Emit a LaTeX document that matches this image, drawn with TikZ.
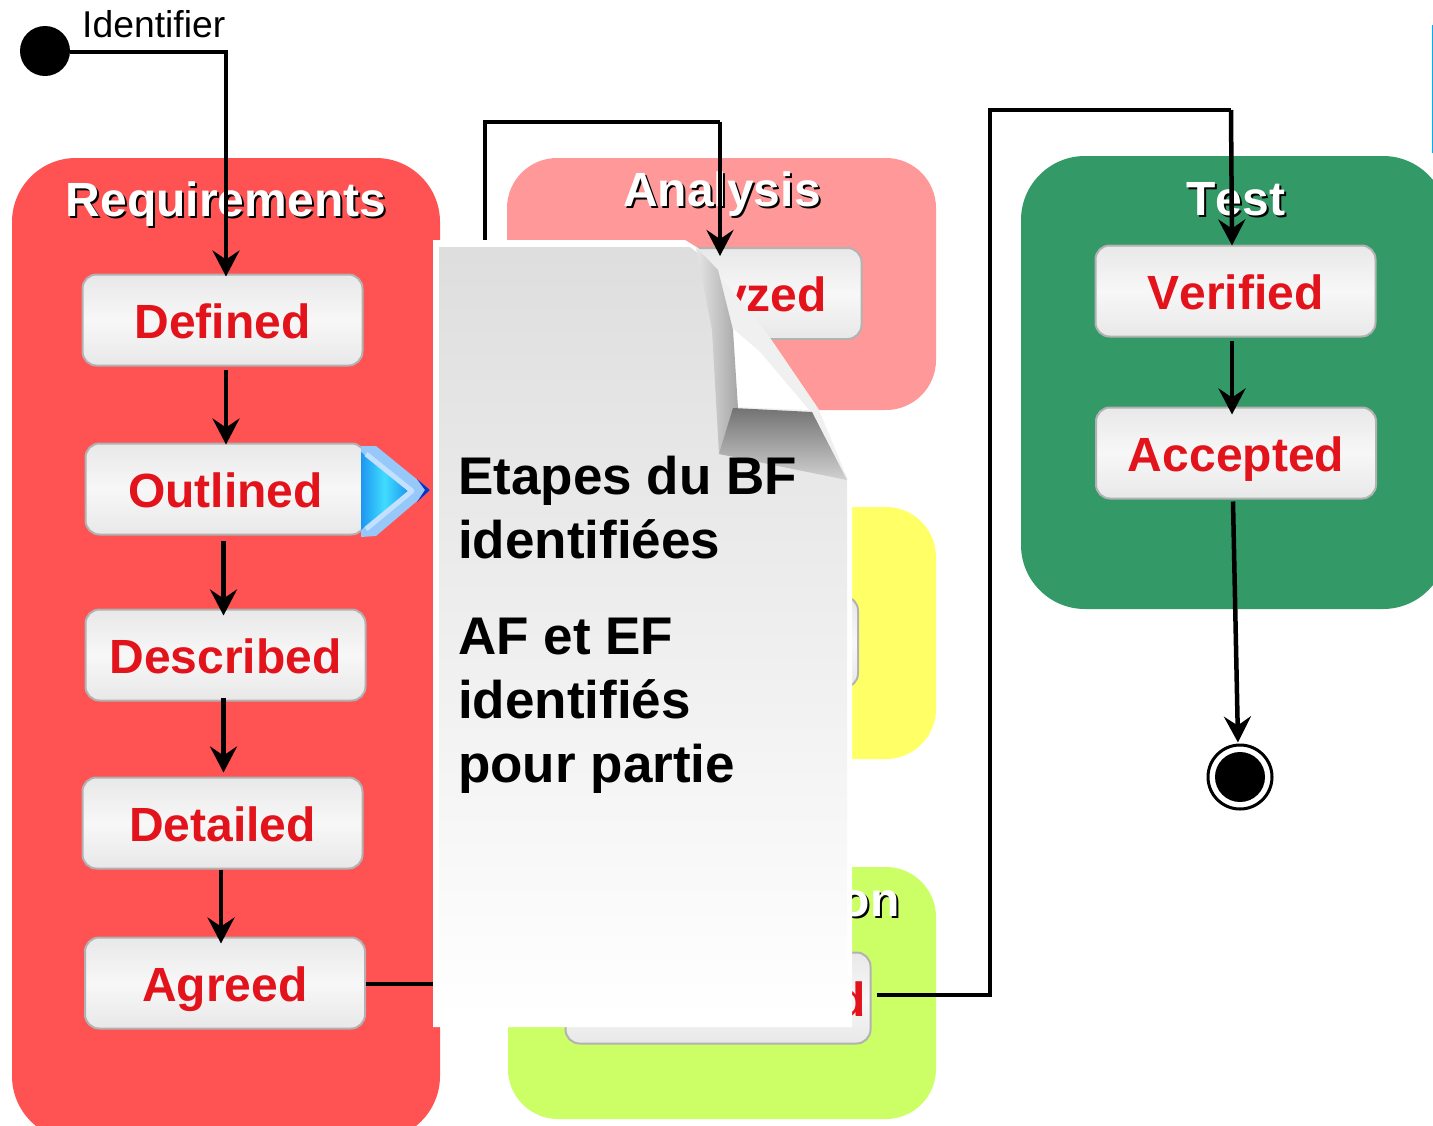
\documentclass[tikz,border=0pt]{standalone}
\usepackage{fontspec}
\setmainfont[Kerning=Off]{Liberation Sans}
\usetikzlibrary{arrows.meta,calc}
\definecolor{lblred}{HTML}{E3131B}
\tikzset{
  x=1pt,y=-1pt,
  panel/.style={rounded corners=64pt,draw=none},
  panelb/.style={rounded corners=50pt,draw=none},
  statebox/.style={rounded corners=14pt,draw=black!30,line width=2pt,top color=black!9,bottom color=black!9,middle color=black!3,
    minimum height=91pt,inner sep=0pt,text=lblred,text height=36pt,text depth=0pt,
    font=\fontsize{48}{48}\selectfont\bfseries},
  ttl/.style={anchor=base,inner sep=0pt,text=white,font=\fontsize{48}{48}\selectfont\bfseries},
  ttlsh/.style={ttl,text=black},
  flow/.style={line width=4.5pt,draw=black},
  arr/.style={flow,-{Stealth[length=26pt,width=27pt,inset=9pt]}},
  doctext/.style={anchor=base west,inner sep=0pt,font=\fontsize{53}{53}\selectfont\bfseries},
}
\newcommand{\paneltitle}[4]{%
  \node[ttlsh] (#1s) at (#2+2,#3+2) {#4};
  \node[ttl] (#1) at (#2,#3) {#4};}
\begin{document}
\begin{tikzpicture}
\useasboundingbox (0,0) rectangle (1433,1125);
\clip (0,0) rectangle (1433,1125);
% panels
\fill[panel,fill={rgb,255:red,255;green,82;blue,82}] (12,158) rectangle (440,1140);
\fill[panelb,fill={rgb,255:red,255;green,153;blue,153}] (507,158) rectangle (936,410);
\fill[panelb,fill={rgb,255:red,255;green,255;blue,102}] (507,507) rectangle (936,759);
\fill[panelb,fill={rgb,255:red,204;green,255;blue,102}] (508,867) rectangle (936,1119);
\fill[panel,fill={rgb,255:red,51;green,153;blue,102}] (1021,156) rectangle (1447,609);
\draw[line width=2pt,draw={rgb,255:red,0;green,176;blue,240}] (1432.5,25) -- (1432.5,153);
% titles
\paneltitle{treq}{226}{216}{Requirements}
\paneltitle{tana}{722}{206}{Analysis}
\paneltitle{ttest}{1236}{215}{Test}
\paneltitle{timp}{722}{916}{Implementation}
% states
\node[statebox,minimum width=280pt] (defined) at (222.5,320) {Defined};
\node[statebox,minimum width=280pt] (outlined) at (225.5,489) {Outlined};
\node[statebox,minimum width=280pt] (described) at (225.5,655) {Described};
\node[statebox,minimum width=280pt] (detailed) at (222.5,823) {Detailed};
\node[statebox,minimum width=280pt] (agreed) at (225,983) {Agreed};
\node[statebox,minimum width=280pt] (analyzed) at (721.5,293.5) {Analyzed};
\node[statebox,minimum width=280pt] (designbox) at (718,642) {};
\node[statebox,minimum width=305pt] (implemented) at (718,998) {Implemented};
\node[statebox,minimum width=280pt] (verified) at (1235.5,291) {Verified};
\node[statebox,minimum width=280pt] (accepted) at (1236,453) {Accepted};
% start / end
\node[circle,fill=black,minimum size=50pt,inner sep=0pt] (start) at (45,51) {};
\node[anchor=base west,inner sep=0pt,font=\fontsize{37.3}{37}\selectfont] (idlabel) at (82,37) {Identifier};
\node[circle,draw=black,fill=white,line width=3pt,minimum size=64pt,inner sep=0pt] (endring) at (1240,777) {};
\node[circle,fill=black,minimum size=50pt,inner sep=0pt] (enddot) at (1240,777) {};
% connectors
\coordinate (c1) at (226,52);
\coordinate (c2a) at (485,984);
\coordinate (c2b) at (485,122);
\coordinate (c2c) at (720,122);
\coordinate (c3a) at (990,995);
\coordinate (c3b) at (990,110);
\coordinate (c3c) at (1231,110);
\draw[arr] (start.east |- c1) -- (c1) -- ($(defined.north)+(3.5,3)$);
\draw[arr] ($(defined.south)+(3.5,3)$) -- ($(outlined.north)+(0.5,2)$);
\draw[arr] ($(outlined.south)+(-2,5)$) -- ($(described.north)+(-2,7)$);
\draw[arr] ($(described.south)+(-2,-4)$) -- ($(detailed.north)+(1,-4)$);
\draw[arr] ($(detailed.south)+(-1.5,0)$) -- ($(agreed.north)+(-4,7)$);
\draw[flow,line join=miter] (agreed.east |- c2a) -- (c2a) -- (c2b) -- (c2c);
\draw[arr] (c2c) -- ($(analyzed.north)+(-1.5,9)$);
\draw[flow,line join=miter] ($(implemented.east)+(5,-3)$) -- (c3a) -- (c3b) -- (c3c);
\draw[arr] (c3c) -- ($(verified.north)+(-3.5,1)$);
\draw[arr] ($(verified.south)+(-3.5,3)$) -- ($(accepted.north)+(-4,8)$);
\draw[arr] ($(accepted.south)+(-3,2)$) -- ($(endring.north)+(-2,-1)$);
% blue chevron
\fill[fill={rgb,255:red,150;green,200;blue,250}] (361,446) -- (376,446) -- (430,490) -- (376,536) -- (361,537) -- cycle;
\fill[fill={rgb,255:red,10;green,50;blue,200}] (417,479) -- (430,490) -- (417,502) -- (425,490) -- cycle;
\shade[left color={rgb,255:red,30;green,150;blue,240},right color={rgb,255:red,30;green,150;blue,240},middle color={rgb,255:red,64;green,220;blue,255}] (361,452) -- (408,491) -- (361,530) -- cycle;
\draw[line width=5pt,draw={rgb,255:red,195;green,225;blue,255},line join=round] (366,454) -- (412,491) -- (366,529);
% document
\fill[white] (433,240) -- (685,240) -- (698,248) -- (770,338) -- (819,410) -- (852,482) -- (852,1027) -- (433,1027) -- cycle;
\shade[top color=black!13,bottom color=white] (439,247) -- (690,247) -- (700,255) -- (770,345) -- (815,412) -- (847,478) -- (847,1018) -- (439,1018) -- cycle;
\fill[black!6] (698,248) -- (770,338) -- (819,410) -- (847,478) -- (735,410) -- (725,320) -- cycle;
\fill[white] (731,327) -- (737,407) -- (809,410) -- (760,352) -- cycle;
\shade[left color=black!10,right color=black!35] (696,247) -- (718,270) -- (733,330) -- (738,408) -- (733,420) -- (719,454) -- (712,330) -- cycle;
\shade[top color=black!55,bottom color=black!18] (733,408) -- (812,412) -- (847,480) -- (719,454) -- cycle;
\node[doctext] (d1) at (458,494) {Etapes du BF};
\node[doctext] (d2) at (458,558) {identifiées};
\node[doctext] (d3) at (458,654) {AF et EF};
\node[doctext] (d4) at (458,718) {identifiés};
\node[doctext] (d5) at (458,782) {pour partie};
\end{tikzpicture}
\end{document}
